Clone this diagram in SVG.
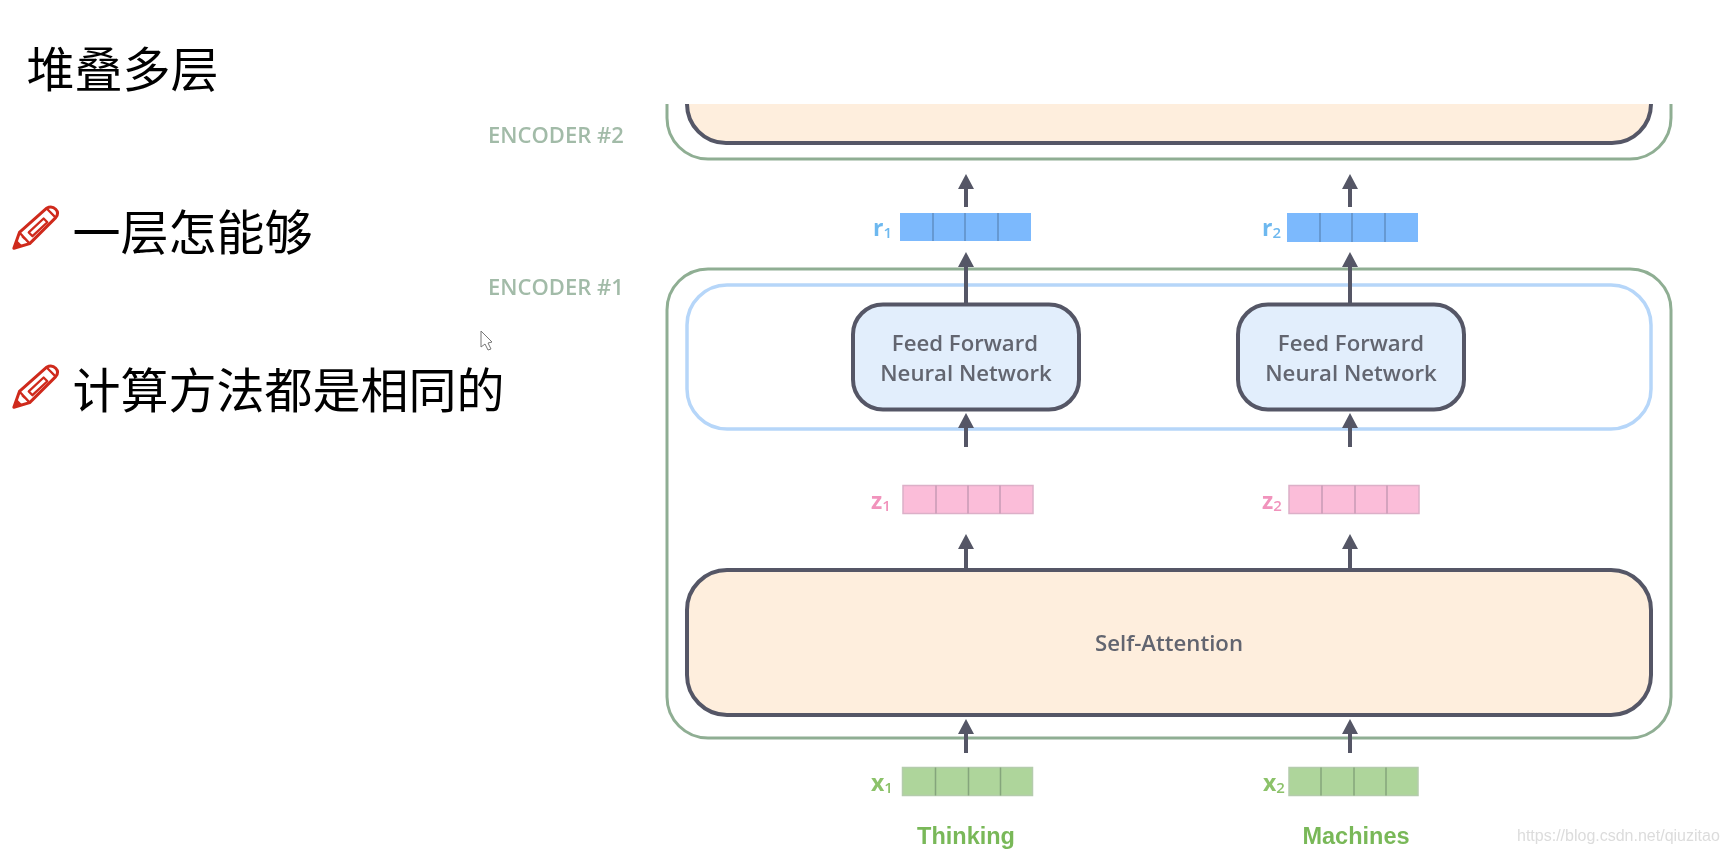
<svg xmlns="http://www.w3.org/2000/svg" width="1727" height="853" viewBox="0 0 1727 853">
<style>
.head{font-family:"Noto Sans CJK SC","Noto Sans",sans-serif;font-size:48px;fill:#000}
.enc{font-family:"Open Sans","Liberation Sans",sans-serif;font-size:22px;font-weight:600;fill:#a2bba8}
.box{font-family:"Open Sans","Liberation Sans",sans-serif;font-size:22.2px;font-weight:600;fill:#62656f;text-anchor:middle}
.word{font-family:"Liberation Sans",Arial,sans-serif;font-size:23.5px;font-weight:700;fill:#79b859;text-anchor:middle}
.sym{font-family:"Open Sans","Liberation Sans",sans-serif;font-size:23px;font-weight:700}
.sub{font-size:15px;font-weight:600}
.frame{fill:none;stroke:#8fae93;stroke-width:3}
.ffwrap{fill:#fff;stroke:#b6d6f9;stroke-width:3.5}
.sa{fill:#feeedd;stroke:#545766;stroke-width:4}
.ff{fill:#e2eefc;stroke:#545766;stroke-width:4}
.arrow{stroke:#545766;stroke-width:4;fill:none;marker-end:url(#ah)}
.vr{fill:#7cb9fd}.vrl{stroke:#5f8fc4;stroke-width:1.5}
.vz{fill:#fbbdd9;stroke:#dcb0c8;stroke-width:1.5}.vzl{stroke:#c79ab5;stroke-width:1.5}
.vx{fill:#aed59b;stroke:#b4ccac;stroke-width:1.5}.vxl{stroke:#85a57c;stroke-width:1.5}
.pen{fill:#fff;stroke:#cf2a1c;stroke-width:3.2;stroke-linejoin:round}
</style>
<defs>
<filter id="soft" x="0" y="0" width="1" height="1" filterUnits="objectBoundingBox"><feGaussianBlur stdDeviation="0.55"/></filter>
<marker id="ah" markerUnits="userSpaceOnUse" markerWidth="16" markerHeight="16" refX="3" refY="8" orient="auto" viewBox="0 0 16 16">
<path d="M0 0L15 8L0 16Z" fill="#545766"/>
</marker>
<g id="pencil">
<path class="pen" d="M2 46L8 29L37 3Q43 0 47 4Q51 8 47 13L19 41Z"/>
<path d="M2 46L5 37L11 43Z" fill="#cf2a1c"/>
<path class="pen" style="stroke-width:2.5" d="M18 29L34 14L38 18L22 33Z"/>
<path d="M37 3L47 13M8 29L19 41M11 33L14 36" fill="none" stroke="#cf2a1c" stroke-width="2.5"/>
</g>
</defs>
<rect width="1727" height="853" fill="#fff"/>
<g filter="url(#soft)">
<rect width="1727" height="853" fill="#fff"/>

<g id="title-text"><text class="head" x="26.500" y="87">堆叠多层</text></g>
<g id="bullet-1"><use href="#pencil" transform="translate(12 205.500) scale(0.93)"/><text class="head" x="72.500" y="250">一层怎能够</text></g>
<g id="bullet-2"><use href="#pencil" transform="translate(12 364.500) scale(0.93)"/><text class="head" x="72.500" y="408">计算方法都是相同的</text></g>
<g id="cursor"><path d="M481 331V347L485 344L488 350L491 349L488 343L492 342Z" fill="#fff" stroke="#777" stroke-width="1"/></g>

<g id="encoder-2">
<path class="frame" d="M667 104V118A41 41 0 0 0 708 159H1630A41 41 0 0 0 1671 118V104"/>
<path class="sa" d="M687 104A39 39 0 0 0 726 143H1612A39 39 0 0 0 1651 104"/>
<text class="enc" x="488" y="143">ENCODER #2</text>
</g>
<g id="encoder-1">
<rect class="frame" x="667" y="269" width="1004" height="469" rx="41"/>
<text class="enc" x="488" y="295">ENCODER #1</text>
</g>
<g id="ff-wrapper"><rect class="ffwrap" x="687" y="285" width="964" height="144" rx="40"/></g>

<g id="connectors">
<line class="arrow" x1="966" y1="207" x2="966" y2="186"/>
<line class="arrow" x1="1350" y1="207" x2="1350" y2="186"/>
<line class="arrow" x1="966" y1="304" x2="966" y2="264"/>
<line class="arrow" x1="1350" y1="304" x2="1350" y2="264"/>
<line class="arrow" x1="966" y1="447" x2="966" y2="425"/>
<line class="arrow" x1="1350" y1="447" x2="1350" y2="425"/>
<line class="arrow" x1="966" y1="570" x2="966" y2="546"/>
<line class="arrow" x1="1350" y1="570" x2="1350" y2="546"/>
<line class="arrow" x1="966" y1="753" x2="966" y2="731"/>
<line class="arrow" x1="1350" y1="753" x2="1350" y2="731"/>
</g>

<g id="ff-1"><rect class="ff" x="853" y="304.500" width="226" height="105" rx="30"/>
<text class="box" x="965" y="350.500">Feed Forward</text><text class="box" x="966" y="380.500">Neural Network</text></g>
<g id="ff-2"><rect class="ff" x="1238" y="304.500" width="226" height="105" rx="30"/>
<text class="box" x="1351" y="350.500">Feed Forward</text><text class="box" x="1351" y="380.500">Neural Network</text></g>
<g id="self-attention"><rect class="sa" x="687" y="570" width="964" height="145" rx="40"/>
<text class="box" x="1169" y="651">Self-Attention</text></g>

<g id="r1"><text class="sym" x="873" y="236" fill="#6db8ef">r<tspan class="sub" dy="2">1</tspan></text>
<rect class="vr" x="900" y="213" width="131" height="28"/><path class="vrl" d="M933 213V241M965 213V241M998 213V241"/></g>
<g id="r2"><text class="sym" x="1262" y="236" fill="#6db8ef">r<tspan class="sub" dy="2">2</tspan></text>
<rect class="vr" x="1287" y="213" width="131" height="29"/><path class="vrl" d="M1320 213V242M1352 213V242M1385 213V242"/></g>
<g id="z1"><text class="sym" x="871" y="509" fill="#f193bc">z<tspan class="sub" dy="2">1</tspan></text>
<rect class="vz" x="903" y="485.500" width="130" height="28"/><path class="vzl" d="M936 485.500V513.500M968 485.500V513.500M1000 485.500V513.500"/></g>
<g id="z2"><text class="sym" x="1262" y="509" fill="#f193bc">z<tspan class="sub" dy="2">2</tspan></text>
<rect class="vz" x="1289" y="485.500" width="130" height="28"/><path class="vzl" d="M1322 485.500V513.500M1355 485.500V513.500M1387 485.500V513.500"/></g>
<g id="x1"><text class="sym" x="871" y="791" fill="#8cc26a">x<tspan class="sub" dy="2">1</tspan></text>
<rect class="vx" x="902.500" y="767.500" width="130" height="28"/><path class="vxl" d="M935.500 767.500V795.500M968.500 767.500V795.500M1000.500 767.500V795.500"/></g>
<g id="x2"><text class="sym" x="1263" y="791" fill="#8cc26a">x<tspan class="sub" dy="2">2</tspan></text>
<rect class="vx" x="1289" y="767.500" width="129" height="28"/><path class="vxl" d="M1321 767.500V795.500M1354 767.500V795.500M1386 767.500V795.500"/></g>

<g id="word-thinking"><text class="word" x="966" y="844">Thinking</text></g>
<g id="word-machines"><text class="word" x="1356" y="844">Machines</text></g>
<g id="watermark"><text x="1517" y="841" font-family="'Liberation Sans',Arial,sans-serif" font-size="16px" fill="#dcdcdc">https://blog.csdn.net/qiuzitao</text></g>
</g>
</svg>
